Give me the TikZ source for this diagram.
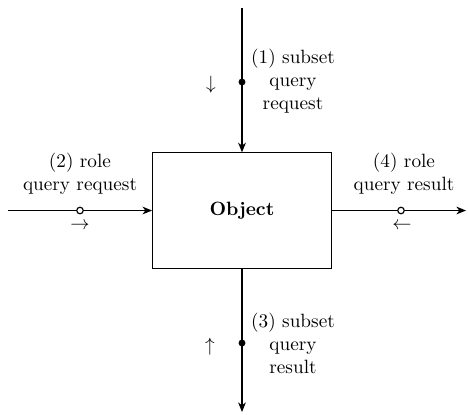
\documentclass[tikz,border=0pt]{standalone}
\usepackage{amsmath}
\usepackage{xcolor}
\usepackage{tikz}
\usetikzlibrary{arrows.meta}
\usetikzlibrary{calc}

\begin{document}
\begin{tikzpicture}[x=0.52pt,y=-0.52pt,
        flow/.style={line width=0.6pt,-{Stealth[length=5pt,width=4pt,inset=1.5pt]}},
        soliddot/.style={circle,fill=black,inner sep=0pt,minimum size=3.6pt},
        opendot/.style={circle,draw=black,fill=white,line width=0.6pt,inner sep=0pt,minimum size=3.4pt},
        lbl/.style={align=center,inner sep=0pt}]
        \useasboundingbox (0,0) rectangle (468,414);
        \node[draw,line width=0.5pt,minimum width=93pt,minimum height=60pt] (obj) at (242,210.5) {\textbf{Object}};

        \coordinate (top) at (242,8);
        \coordinate (bot) at (242,412);
        \coordinate (lft) at (8,210.5);
        \coordinate (rgt) at (466,210.5);

        \draw[flow] (top)--(obj.north);
        \draw[flow] (obj.south)--(bot);
        \draw[flow] (lft)--(obj.west);
        \draw[flow] (obj.east)--(rgt);

        \node[soliddot] (d1) at (242,82) {};
        \node[soliddot] (d3) at (242,343) {};
        \node[opendot] (d2) at (80,210.5) {};
        \node[opendot] (d4) at (401,210.5) {};

        \node (a1) at (211,85) {$\downarrow$};
        \node (a3) at (210,347) {$\uparrow$};
        \node (a2) at (80,226) {$\rightarrow$};
        \node (a4) at (402,226) {$\leftarrow$};

        \node[lbl] (l1) at (293,81) {(1) subset\\query\\request};
        \node[lbl] (l2) at (80,173.5) {(2) role\\query request};
        \node[lbl] (l3) at (293,343) {(3) subset\\query\\result};
        \node[lbl] (l4) at (404,173.5) {(4) role\\query result};
    \end{tikzpicture}
\end{document}
